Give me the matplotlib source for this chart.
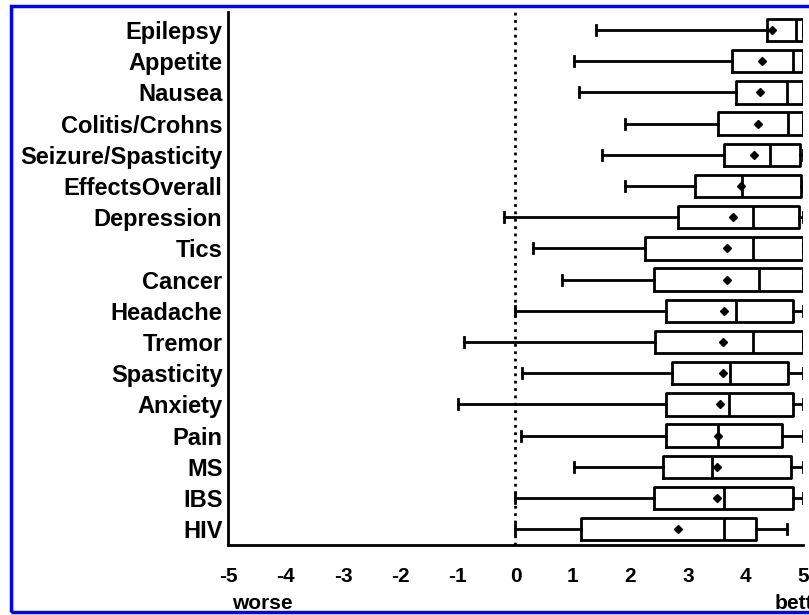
import matplotlib
matplotlib.use('Agg')
import matplotlib.pyplot as plt
from matplotlib.patches import Rectangle

# rows from top to bottom
labels = ['Epilepsy', 'Appetite', 'Nausea', 'Colitis/Crohns', 'Seizure/Spasticity',
          'EffectsOverall', 'Depression', 'Tics', 'Cancer', 'Headache', 'Tremor',
          'Spasticity', 'Anxiety', 'Pain', 'MS', 'IBS', 'HIV']
whislo = [1.4, 1.01, 1.1, 1.91, 1.51, 1.91, -0.2, 0.3, 0.81, 0.0, -0.89, 0.11, -1.0, 0.1, 1.01, 0.0, 0.0]
q1 = [4.37, 3.77, 3.83, 3.52, 3.62, 3.13, 2.82, 2.26, 2.41, 2.62, 2.42, 2.72, 2.62, 2.62, 2.56, 2.41, 1.14]
med = [4.87, 4.83, 4.72, 4.74, 4.43, 3.94, 4.13, 4.13, 4.23, 3.83, 4.13, 3.73, 3.72, 3.52, 3.41, 3.63, 3.63]
q3 = [5.0, 5.0, 5.0, 5.0, 4.94, 4.97, 4.93, 5.0, 5.0, 4.82, 5.0, 4.74, 4.82, 4.64, 4.79, 4.82, 4.19]
whishi = [5.0, 5.0, 5.0, 5.0, 5.0, 5.0, 5.0, 5.0, 5.0, 5.0, 5.0, 5.0, 5.0, 5.0, 5.0, 5.0, 4.73]
means = [4.46, 4.29, 4.25, 4.22, 4.14, 3.93, 3.79, 3.68, 3.68, 3.63, 3.61, 3.61, 3.56, 3.52, 3.51, 3.5, 2.83]
xticks = [-5, -4, -3, -2, -1, 0, 1, 2, 3, 4, 5]

n = len(labels)
pos = [n - i for i in range(n)]   # Epilepsy on top

stats = []
for i in range(n):
    stats.append(dict(label=labels[i], whislo=whislo[i], q1=q1[i], med=med[i],
                      q3=q3[i], whishi=whishi[i], mean=means[i], fliers=[]))

fig = plt.figure(figsize=(8.09, 6.15), dpi=100)
ax = fig.add_axes([0.2818, 0.1138, 0.7108, 0.8667])

lw = 2.0
ax.bxp(stats, positions=pos, vert=False, widths=0.72, showmeans=True, showfliers=False,
       capwidths=0.32,
       boxprops=dict(color='black', linewidth=lw),
       medianprops=dict(color='black', linewidth=lw),
       whiskerprops=dict(color='black', linewidth=lw),
       capprops=dict(color='black', linewidth=lw),
       meanprops=dict(marker='D', markerfacecolor='black', markeredgecolor='black', markersize=4))

ax.axvline(0, color='black', linestyle=':', linewidth=2)

ax.set_xlim(-5, 5)
ax.set_ylim(0.49, n + 0.58)
ax.set_xticks(xticks)
ax.set_xticklabels([str(t) for t in xticks], fontsize=15, fontweight='bold', family='Liberation Sans')
ax.set_yticks(pos)
ax.set_yticklabels(labels, fontsize=17, fontweight='bold', family='Liberation Sans')
ax.tick_params(axis='both', length=0)
ax.tick_params(axis='x', pad=16)
ax.tick_params(axis='y', pad=4)
ax.spines['top'].set_visible(False)
ax.spines['right'].set_visible(False)
ax.spines['left'].set_linewidth(2)
ax.spines['bottom'].set_linewidth(2)

ax.text(-4.4, -0.109, 'worse', transform=ax.get_xaxis_transform(), ha='center', va='center',
        fontsize=15, fontweight='bold', family='Liberation Sans')
ax.text(4.5, -0.109, 'better', transform=ax.get_xaxis_transform(), ha='left', va='center',
        fontsize=15, fontweight='bold', family='Liberation Sans')

# blue frame around the picture
fig.patches.append(Rectangle((11 / 809, 3 / 615), 1.0, 606 / 615, transform=fig.transFigure,
                             fill=False, edgecolor='#0000ff', linewidth=2.5))

fig.savefig('out.png', dpi=100)
